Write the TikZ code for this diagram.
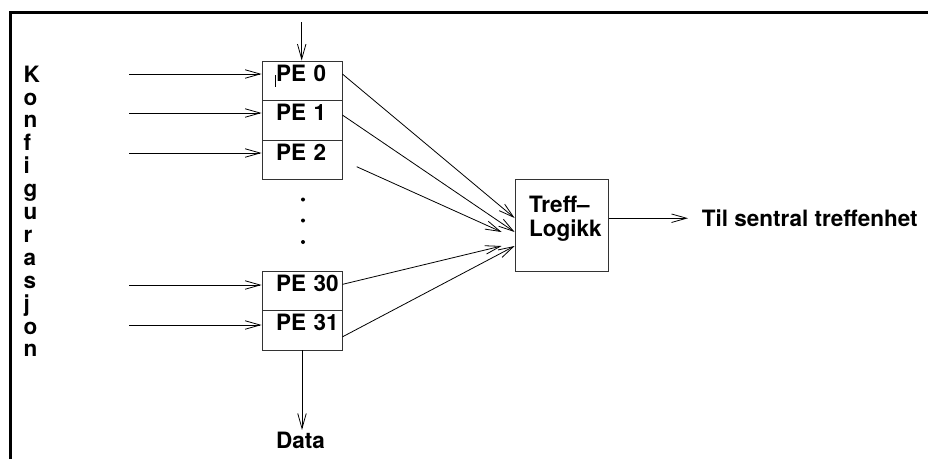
\documentclass[tikz,border=0pt]{standalone}
\usepackage{fontspec}
\setmainfont{TeX Gyre Heros}
\usetikzlibrary{arrows.meta,calc}

\newcommand{\lblfont}{\fontsize{22.5}{23.5}\selectfont\bfseries}

\tikzset{
  wire/.style={draw=black, line width=0.8pt},
  arr/.style={wire, -{Straight Barb[length=15pt,width=8.5pt,line width=0.8pt]}},
  cell/.style={draw=black!80, line width=0.9pt, rectangle,
    inner ysep=0pt, inner xsep=14pt, text width=52pt, align=left,
    text height=20pt, text depth=19.5pt, font=\lblfont},
  lbl/.style={font=\lblfont, inner sep=0pt},
}

\begin{document}
\begin{tikzpicture}[x=1pt, y=-1pt]
  \useasboundingbox (0,0) rectangle (928,459);

  % outer frame (top and left edges)
  \draw[line width=3pt] (10.5,459) -- (10.5,12.5) -- (928,12.5);

  % vertical side label
  \node[lbl, anchor=north west, align=left,
        font=\fontsize{22.5}{22.9}\selectfont\bfseries] (konf) at (23.5,65.5)
    {K\\o\\n\\f\\i\\g\\u\\r\\a\\s\\j\\o\\n};

  % processing elements
  \node[cell] (pe0)  at (302,80.75)  {PE~0};
  \node[cell] (pe1)  at (302,120.25) {PE~1};
  \node[cell] (pe2)  at (302,159.75) {PE~2};
  \node[cell] (pe30) at (302,290.75) {PE~30};
  \node[cell] (pe31) at (302,330.25) {PE~31};
  \draw[line width=0.6pt] (275,75) -- (275,86.7);

  % ellipsis between the stacks
  \fill (303,199.5) circle[radius=2pt];
  \fill (303,220.5) circle[radius=2pt];
  \fill (303,242)   circle[radius=2pt];

  % hit logic
  \node[draw=black!80, line width=0.9pt, rectangle, inner sep=0pt,
        minimum width=93.3pt, minimum height=92.4pt] (logic) at (561.7,225.5) {};
  \node[lbl, anchor=north west, align=left] (logictext) at (529,196) {Treff–\\Logikk};

  % output
  \node[lbl, anchor=base west, inner xsep=13.7pt] (out) at (688,226.5) {Til sentral treffenhet};
  \draw[arr] (logic.east |- out.west) -- (out.west);

  % data output
  \node[lbl, anchor=base, inner ysep=1.5pt] (data) at (300.5,448) {Data};
  \draw[arr] (pe31.south) -- (pe31.south |- data.north);

  % common input from above
  \coordinate (topin) at (301.7,22);
  \draw[arr] (topin) -- (topin |- pe0.north);

  % configuration inputs
  \coordinate (in0)  at (129,74);
  \coordinate (in1)  at (129,113);
  \coordinate (in2)  at (129,153);
  \coordinate (in30) at (129,285);
  \coordinate (in31) at (129,325);
  \draw[arr] (in0)  -- (in0  -| pe0.west);
  \draw[arr] (in1)  -- (in1  -| pe1.west);
  \draw[arr] (in2)  -- (in2  -| pe2.west);
  \draw[arr] (in30) -- (in30 -| pe30.west);
  \draw[arr] (in31) -- (in31 -| pe31.west);

  % fan-in to the hit logic
  \coordinate (pe2src) at (356.7,166.7);
  \draw[arr] ($(pe0.east)+(0,-6.7)$)  -- ($(logic.west)+(0,-7.5)$);
  \draw[arr] ($(pe1.east)+(0,-5.2)$)  -- ($(logic.west)+(0,6.5)$);
  \draw[arr] (pe2src)                 -- ($(logic.west)+(-13,6.5)$);
  \draw[arr] ($(pe30.east)+(0,-6.4)$) -- ($(logic.west)+(-13,20.5)$);
  \draw[arr] ($(pe31.east)+(0,6.6)$)  -- ($(logic.west)+(0,20.5)$);
\end{tikzpicture}
\end{document}
